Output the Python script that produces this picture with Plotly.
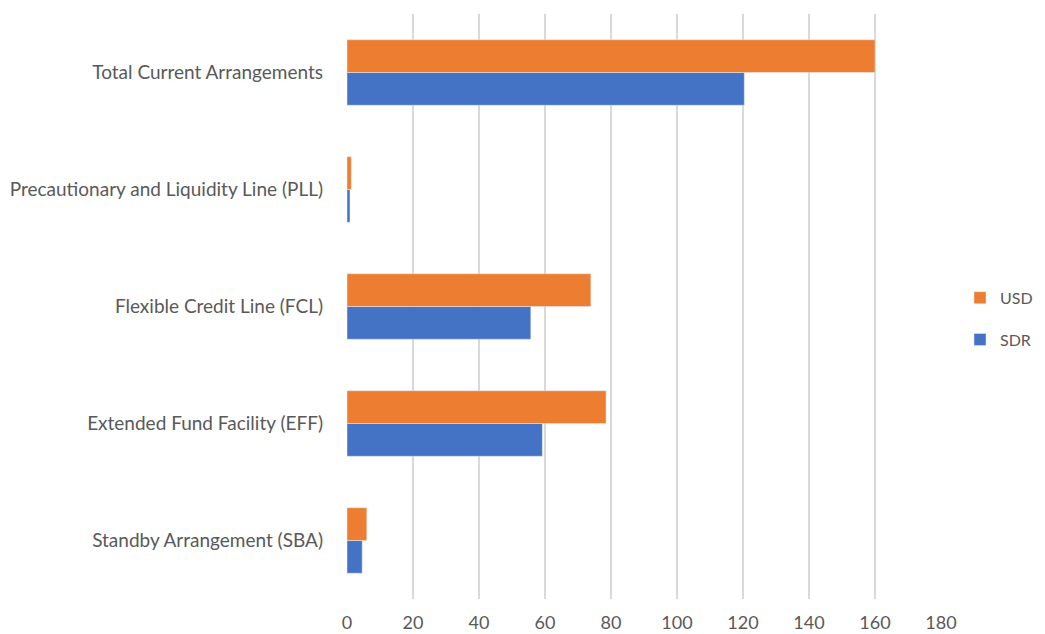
import plotly.graph_objects as go

categories = ["Standby Arrangement (SBA)", "Extended Fund Facility (EFF)",
              "Flexible Credit Line (FCL)", "Precautionary and Liquidity Line (PLL)",
              "Total Current Arrangements"]
sdr = [4.6, 59.2, 55.7, 0.9, 120.4]
usd = [6.0, 78.5, 73.9, 1.3, 160.0]
x_ticks = [0, 20, 40, 60, 80, 100, 120, 140, 160, 180]

fig = go.Figure()
fig.add_trace(go.Bar(y=categories, x=sdr, name="SDR", orientation="h",
                     marker_color="#4472c4", legendgroup="sdr", legendrank=2))
fig.add_trace(go.Bar(y=categories, x=usd, name="USD", orientation="h",
                     marker_color="#ed7d31", legendgroup="usd", legendrank=1))

# page body adds an 8px margin, so the figure is a little smaller than the window
fig.update_layout(
    width=1037, height=626,
    barmode="group", bargap=0.44, bargroupgap=0,
    font=dict(family="Lato", size=18, color="#595959"),
    paper_bgcolor="white", plot_bgcolor="white",
    margin=dict(l=339, r=104, t=6, b=35, autoexpand=False),
    legend=dict(x=1.032, y=0.479, xanchor="left", yanchor="middle",
                traceorder="grouped", font=dict(size=16),
                itemwidth=30, tracegroupgap=18),
    showlegend=True,
)
fig.update_xaxes(range=[0, 180], tickvals=x_ticks, showgrid=True,
                 gridcolor="#d9d9d9", gridwidth=2, zeroline=False,
                 showline=False, ticks="", ticklabelstandoff=11)
fig.update_yaxes(showgrid=False, showline=False, ticks="",
                 ticklabelstandoff=23, categoryorder="array",
                 categoryarray=categories, tickfont=dict(size=19))

fig.write_html("out.html")
